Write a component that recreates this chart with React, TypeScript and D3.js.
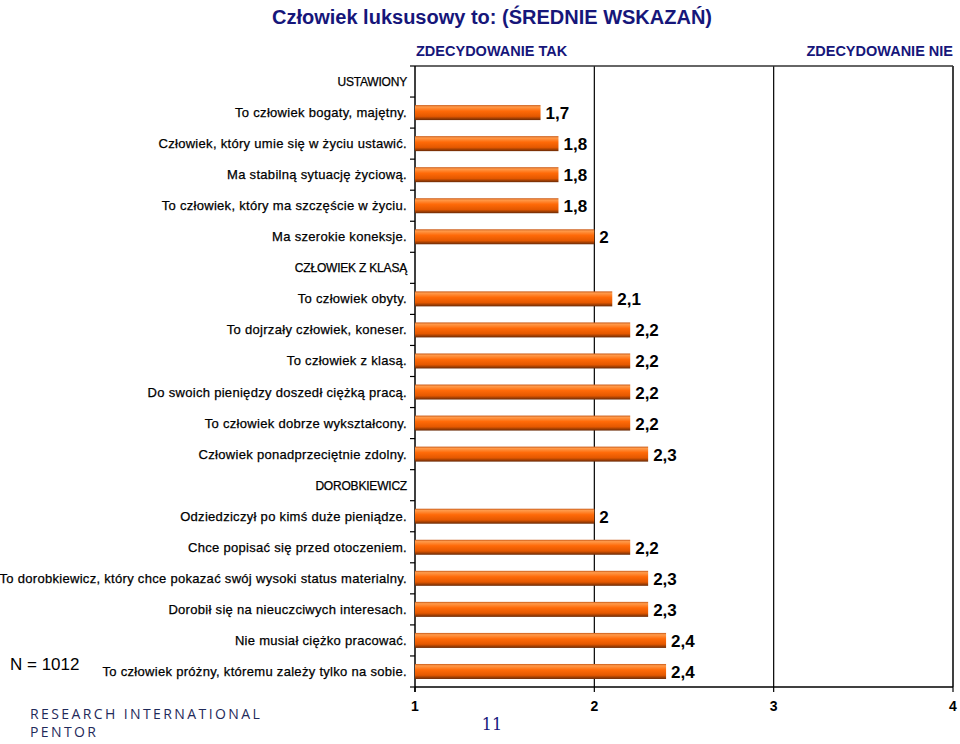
import React from "react";
import * as d3 from "d3";

const categories: string[] = [
  "USTAWIONY",
  "To człowiek bogaty, majętny.",
  "Człowiek, który umie się w życiu ustawić.",
  "Ma stabilną sytuację życiową.",
  "To człowiek, który ma szczęście w życiu.",
  "Ma szerokie koneksje.",
  "CZŁOWIEK Z KLASĄ",
  "To człowiek obyty.",
  "To dojrzały człowiek, koneser.",
  "To człowiek z klasą.",
  "Do swoich pieniędzy doszedł ciężką pracą.",
  "To człowiek dobrze wykształcony.",
  "Człowiek ponadprzeciętnie zdolny.",
  "DOROBKIEWICZ",
  "Odziedziczył po kimś duże pieniądze.",
  "Chce popisać się przed otoczeniem.",
  "To dorobkiewicz, który chce pokazać swój wysoki status materialny.",
  "Dorobił się na nieuczciwych interesach.",
  "Nie musiał ciężko pracować.",
  "To człowiek próżny, któremu zależy tylko na sobie.",
];
const isHeader: boolean[] = categories.map((c) => c === c.toUpperCase());
const values: (number | null)[] = [
  null, 1.7, 1.8, 1.8, 1.8, 2,
  null, 2.1, 2.2, 2.2, 2.2, 2.2, 2.3,
  null, 2, 2.2, 2.3, 2.3, 2.4, 2.4,
];
const xTicks: number[] = [1, 2, 3, 4];
const title = "Człowiek luksusowy to: (ŚREDNIE WSKAZAŃ)";
const leftAnchor = "ZDECYDOWANIE TAK";
const rightAnchor = "ZDECYDOWANIE NIE";
const sampleNote = "N = 1012";

const W = 960;
const H = 744;
const left = 415;
const right = 953;
const top = 66;
const bottom = 687;
const NAVY = "#16167a";
const ARIAL = "Arial, 'Liberation Sans', Helvetica, sans-serif";

export default function App() {
  const x = d3.scaleLinear().domain([1, 4]).range([left, right]);
  const y = d3
    .scaleBand<number>()
    .domain(d3.range(categories.length))
    .range([top, bottom])
    .padding(0);
  const bandH = y.bandwidth();
  const rowCenter = (i: number) => (y(i) as number) + bandH / 2;
  const barH = 15;
  const fmt = (v: number) => (Number.isInteger(v) ? String(v) : v.toFixed(1).replace(".", ","));

  return (
    <svg width={W} height={H} viewBox={`0 0 ${W} ${H}`} style={{ position: "absolute", left: 0, top: 0 }}>
      <defs>
        <linearGradient id="barGrad" x1="0" y1="0" x2="0" y2="1">
          <stop offset="0" stopColor="#c85a18" />
          <stop offset="0.12" stopColor="#ff9a4a" />
          <stop offset="0.4" stopColor="#ff6a08" />
          <stop offset="0.75" stopColor="#e45800" />
          <stop offset="1" stopColor="#6a2a06" />
        </linearGradient>
      </defs>
      <rect width={W} height={H} fill="#fff" />
      <text x={492} y={24} textAnchor="middle" fontFamily={ARIAL} fontWeight="bold" fontSize={20} fill={NAVY}>
        {title}
      </text>
      <text x={left + 1} y={56} fontFamily={ARIAL} fontWeight="bold" fontSize={14.5} fill={NAVY}>
        {leftAnchor}
      </text>
      <text x={right} y={56} textAnchor="end" fontFamily={ARIAL} fontWeight="bold" fontSize={14.5} fill={NAVY}>
        {rightAnchor}
      </text>

      {/* grid lines and frame */}
      {xTicks.slice(1).map((t) => (
        <line key={"g" + t} x1={x(t)} x2={x(t)} y1={top} y2={bottom} stroke="#000" strokeWidth={1.2} />
      ))}
      <line x1={left} x2={right} y1={top} y2={top} stroke="#333" strokeWidth={1.5} />
      <line x1={right} x2={right} y1={top} y2={bottom} stroke="#333" strokeWidth={1.5} />
      <line x1={left} x2={left} y1={top} y2={bottom + 5} stroke="#000" strokeWidth={1.5} />
      <line x1={left} x2={right} y1={bottom} y2={bottom} stroke="#000" strokeWidth={1.5} />

      {/* y ticks at row boundaries */}
      {d3.range(categories.length + 1).map((i) => (
        <line key={"yt" + i} x1={left - 5} x2={left} y1={top + bandH * i} y2={top + bandH * i} stroke="#000" strokeWidth={1.2} />
      ))}
      {/* x ticks */}
      {xTicks.map((t) => (
        <g key={"xt" + t}>
          <line x1={x(t)} x2={x(t)} y1={bottom} y2={bottom + 5} stroke="#000" strokeWidth={1.2} />
          <text x={x(t)} y={711} textAnchor="middle" fontFamily={ARIAL} fontWeight="bold" fontSize={14} fill="#000">
            {t}
          </text>
        </g>
      ))}

      {categories.map((c, i) => {
        const cy = rowCenter(i);
        const v = values[i];
        return (
          <g key={c}>
            <text
              x={407}
              y={cy + 4.5}
              textAnchor="end"
              fontFamily={ARIAL}
              fontSize={isHeader[i] ? 12 : 13}
              letterSpacing={isHeader[i] ? -0.2 : 0.3}
              fill="#000"
              stroke="#000"
              strokeWidth={0.25}
            >
              {c}
            </text>
            {v != null && (
              <>
                <rect x={x(1)} y={cy - barH / 2} width={x(v) - x(1)} height={barH} fill="url(#barGrad)" />
                <text x={x(v) + 5} y={cy + 6.5} fontFamily={ARIAL} fontWeight="bold" fontSize={17} fill="#000">
                  {fmt(v)}
                </text>
              </>
            )}
          </g>
        );
      })}

      <text x={10} y={670} fontFamily={ARIAL} fontSize={17} fill="#000">
        {sampleNote}
      </text>
      <text x={492} y={730} textAnchor="middle" fontFamily="'DejaVu Serif', 'Liberation Serif', serif" fontSize={16} fill={NAVY}>
        11
      </text>
      <text x={30} y={719} fontFamily="'Open Sans', 'Noto Sans', sans-serif" fontSize={14} letterSpacing={2.4} fill="#1f2a5a">
        RESEARCH INTERNATIONAL
      </text>
      <text x={30} y={737} fontFamily="'Open Sans', 'Noto Sans', sans-serif" fontSize={14} letterSpacing={2.4} fill="#1f2a5a">
        PENTOR
      </text>
    </svg>
  );
}
